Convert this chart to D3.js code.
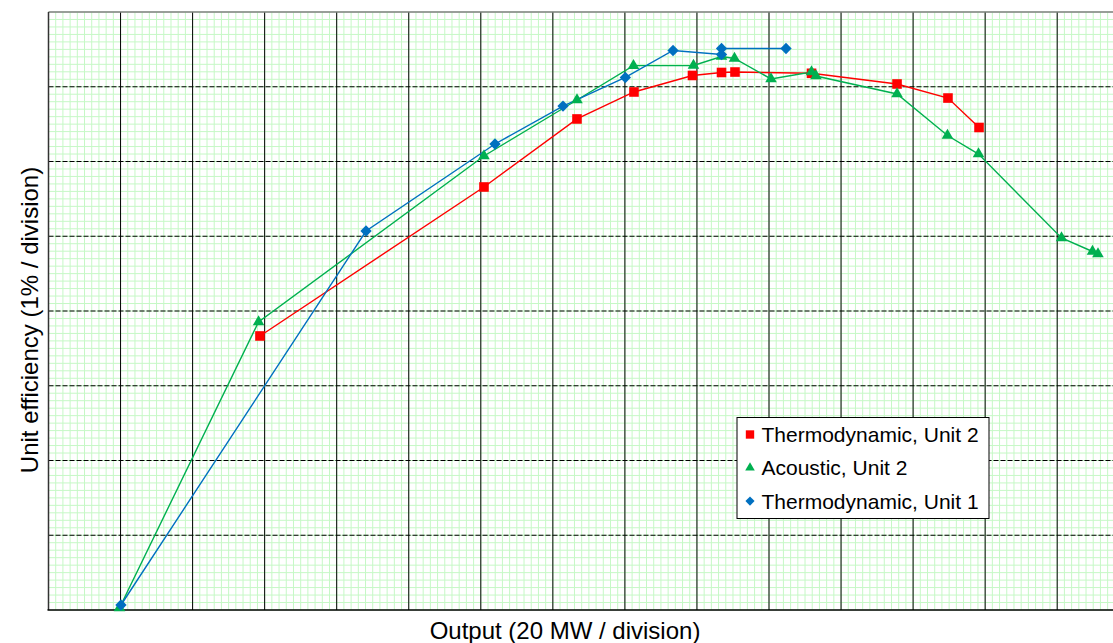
<!DOCTYPE html>
<head>
    <meta charset="utf-8">
    <script src="https://d3js.org/d3.v7.min.js"></script>
    <style>
        body { margin: 0; background: #fff; }
        text { font-family: "Liberation Sans", Arial, sans-serif; fill: #000; }
    </style>
</head>

<body>
    <div id="chart"></div>
</body>

<script>
    // values in grid divisions (x: 20 MW / division, y: 1% / division)
    const thermoU2X = [2.935, 6.044, 7.335, 8.126, 8.938, 9.341, 9.528, 10.590, 11.777, 12.484, 12.915];
    const thermoU2Y = [3.666, 5.659, 6.569, 6.930, 7.151, 7.191, 7.197, 7.180, 7.037, 6.849, 6.455];

    const acousticU2X = [0.985, 2.915, 6.044, 7.335, 8.119, 8.952, 9.341, 9.521, 10.028, 10.590, 10.652, 11.777, 12.477, 12.908, 14.060, 14.490, 14.566];
    const acousticU2Y = [0.027, 3.853, 6.074, 6.823, 7.282, 7.284, 7.405, 7.378, 7.104, 7.197, 7.144, 6.903, 6.348, 6.100, 4.977, 4.796, 4.763];

    const thermoU1X = [1.006, 4.407, 6.197, 7.141, 8.006, 8.668, 9.341, 9.341, 10.236];
    const thermoU1Y = [0.067, 5.070, 6.234, 6.742, 7.124, 7.485, 7.431, 7.512, 7.512];

    const seriesNames = ["Thermodynamic, Unit 2", "Acoustic, Unit 2", "Thermodynamic, Unit 1"];
    const seriesColors = ["#ff0000", "#00b050", "#0070c0"];

    const xDivisions = 15, yDivisions = 8;

    const W = 1113, H = 643;
    const plot = {left: 48.5, top: 12, bottom: 610, divW: 72.05};

    const svg = d3.select("#chart")
        .append("svg")
        .attr("width", W)
        .attr("height", H);

    const x = d3.scaleLinear()
        .domain([0, xDivisions])
        .range([plot.left, plot.left + plot.divW * xDivisions]);
    const y = d3.scaleLinear()
        .domain([0, yDivisions])
        .range([plot.bottom, plot.top]);

    const xRight = x(xDivisions);

    // minor grid (10 per division)
    const minorX = d3.range(0, xDivisions * 10 + 1).map(i => i / 10);
    const minorY = d3.range(0, yDivisions * 10 + 1).map(i => i / 10);

    const grid = svg.append("g");
    grid.selectAll("minorV")
        .data(minorX)
        .enter()
        .append("line")
        .attr("x1", d => x(d)).attr("x2", d => x(d))
        .attr("y1", y(0)).attr("y2", y(yDivisions))
        .attr("stroke", "#c6f8c6").attr("stroke-width", 1);
    grid.selectAll("minorH")
        .data(minorY)
        .enter()
        .append("line")
        .attr("x1", x(0)).attr("x2", xRight)
        .attr("y1", d => y(d)).attr("y2", d => y(d))
        .attr("stroke", "#c6f8c6").attr("stroke-width", 1);

    // major grid
    grid.selectAll("majorV")
        .data(d3.range(1, xDivisions))
        .enter()
        .append("line")
        .attr("x1", d => x(d)).attr("x2", d => x(d))
        .attr("y1", y(0)).attr("y2", y(yDivisions))
        .attr("stroke", "#000").attr("stroke-width", 1);
    grid.selectAll("majorH")
        .data(d3.range(1, yDivisions))
        .enter()
        .append("line")
        .attr("x1", x(0)).attr("x2", xRight)
        .attr("y1", d => y(d)).attr("y2", d => y(d))
        .attr("stroke", "#000").attr("stroke-width", 1)
        .attr("stroke-dasharray", "5,2");

    // frame
    svg.append("line")
        .attr("x1", x(0)).attr("x2", xRight)
        .attr("y1", y(yDivisions)).attr("y2", y(yDivisions))
        .attr("stroke", "#808080").attr("stroke-width", 1.5);
    svg.append("line")
        .attr("x1", x(0)).attr("x2", x(0))
        .attr("y1", y(0)).attr("y2", y(yDivisions))
        .attr("stroke", "#333").attr("stroke-width", 1.5);
    svg.append("line")
        .attr("x1", x(0) - 1).attr("x2", xRight)
        .attr("y1", y(0)).attr("y2", y(0))
        .attr("stroke", "#000").attr("stroke-width", 1.5);

    // series
    const series = [
        {name: seriesNames[0], xs: thermoU2X, ys: thermoU2Y, color: seriesColors[0], shape: "square"},
        {name: seriesNames[1], xs: acousticU2X, ys: acousticU2Y, color: seriesColors[1], shape: "triangle"},
        {name: seriesNames[2], xs: thermoU1X, ys: thermoU1Y, color: seriesColors[2], shape: "diamond"}
    ];

    function symbolPath(shape, big) {
        if (shape === "square") return d3.symbol(d3.symbolSquare, big ? 92 : 70)();
        if (shape === "triangle") return d3.symbol(d3.symbolTriangle, big ? 58 : 40)();
        return d3.symbol(d3.symbolSquare, big ? 64 : 42)();
    }

    const line = d3.line()
        .x(d => x(d[0]))
        .y(d => y(d[1]));

    // lines first, then markers
    series.forEach(s => {
        const pts = s.xs.map((v, i) => [v, s.ys[i]]);
        svg.append("path")
            .datum(pts)
            .attr("fill", "none")
            .attr("stroke", s.color)
            .attr("stroke-width", 1.4)
            .attr("d", line);
    });
    series.forEach(s => {
        const pts = s.xs.map((v, i) => [v, s.ys[i]]);
        svg.append("g")
            .selectAll("path")
            .data(pts)
            .enter()
            .append("path")
            .attr("d", symbolPath(s.shape, true))
            .attr("transform", d => `translate(${x(d[0])},${y(d[1])})` + (s.shape === "diamond" ? " rotate(45)" : ""))
            .attr("fill", s.color);
    });

    // legend
    const legend = svg.append("g").attr("transform", "translate(737,417.5)");
    legend.append("rect")
        .attr("width", 252)
        .attr("height", 101)
        .attr("fill", "#fff")
        .attr("stroke", "#000")
        .attr("stroke-width", 1);
    series.forEach((s, i) => {
        const row = legend.append("g").attr("transform", `translate(0,${17 + i * 33.3})`);
        row.append("path")
            .attr("d", symbolPath(s.shape, false))
            .attr("transform", `translate(13,0)` + (s.shape === "diamond" ? " rotate(45)" : ""))
            .attr("fill", s.color);
        row.append("text")
            .attr("x", 24.5)
            .attr("y", 7.5)
            .style("font-size", "21px")
            .text(s.name);
    });

    // axis titles
    svg.append("text")
        .attr("x", 565)
        .attr("y", 639)
        .attr("text-anchor", "middle")
        .style("font-size", "24px")
        .text("Output (20 MW / division)");

    svg.append("text")
        .attr("transform", "translate(38,320) rotate(-90)")
        .attr("text-anchor", "middle")
        .style("font-size", "24px")
        .text("Unit efficiency (1% / division)");
</script>
</html>
